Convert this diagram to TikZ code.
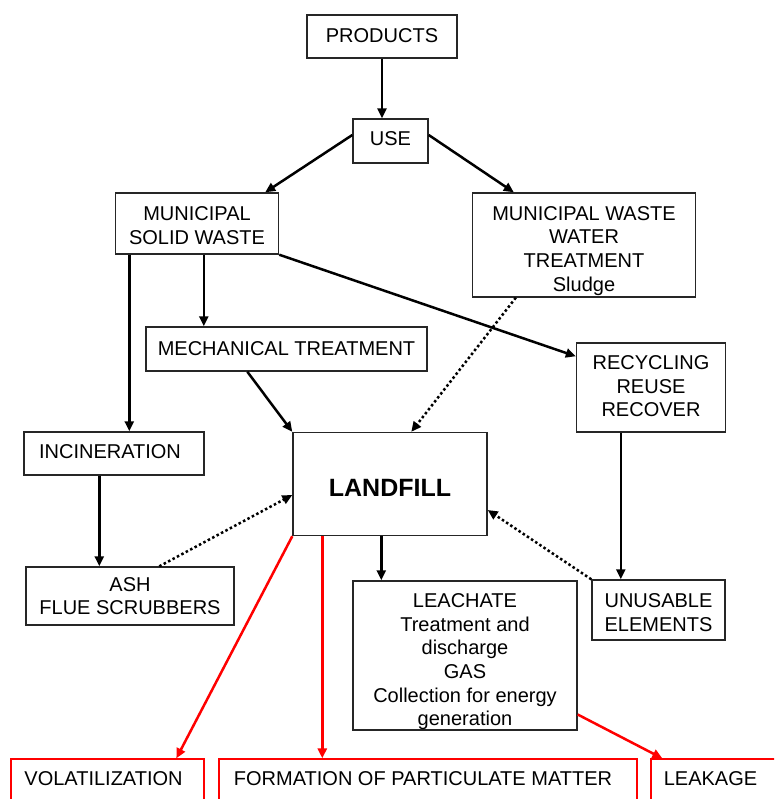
\documentclass[tikz,border=0pt]{standalone}
\usepackage{fontspec}
\setmainfont{Liberation Sans}
\usetikzlibrary{arrows.meta}
\newcommand\lowered[2]{\raisebox{-#1}[\height][\depth]{\begin{tabular}{@{}c@{}}#2\end{tabular}}}
\tikzset{
  box/.style={draw=black!85,line width=1.4pt,inner sep=0pt,align=center,
    font=\fontsize{20}{23.7}\selectfont},
  redbox/.style={box,draw=red,line width=1.3pt},
  flow/.style={line width=2.5pt,-{Triangle[length=10pt,width=9pt]}},
  dotflow/.style={flow,dash pattern=on 2.5pt off 2.5pt},
  redflow/.style={flow,red}
}
\begin{document}
\begin{tikzpicture}[x=1pt,y=-1pt]
\clip (0,0) rectangle (774,799);
% boxes
\node[box,minimum width=150pt,minimum height=43pt] (products) at (382,36.5) {\lowered{1pt}{PRODUCTS}};
\node[box,minimum width=75pt,minimum height=44pt] (use) at (390.5,141) {\lowered{0pt}{USE}};
\node[box,minimum width=163pt,minimum height=61pt] (msw) at (197,223.5) {\lowered{4pt}{MUNICIPAL\\SOLID WASTE}};
\node[box,minimum width=223pt,minimum height=104pt] (mwwt) at (584,245) {\lowered{6pt}{MUNICIPAL WASTE\\WATER\\TREATMENT\\Sludge}};
\node[box,minimum width=281pt,minimum height=44pt] (mech) at (286.5,349) {\lowered{2pt}{MECHANICAL TREATMENT}};
\node[box,minimum width=149pt,minimum height=89pt] (recycle) at (651,387.5) {\lowered{1pt}{RECYCLING\\REUSE\\RECOVER}};
\node[box,minimum width=180pt,minimum height=43pt] (incin) at (114,453.5) {\hspace*{-8pt}\lowered{0pt}{INCINERATION}};
\node[box,minimum width=194pt,minimum height=103pt,font=\fontsize{25}{30}\selectfont\bfseries] (landfill) at (390,484) {\lowered{6pt}{LANDFILL}};
\node[box,minimum width=208pt,minimum height=58pt] (ash) at (130,596) {ASH\\FLUE SCRUBBERS};
\node[box,minimum width=224pt,minimum height=149pt] (leach) at (465,655.5) {\lowered{6.5pt}{LEACHATE\\Treatment and\\discharge\\GAS\\Collection for energy\\generation}};
\node[box,minimum width=133pt,minimum height=60pt] (unusable) at (658.5,610) {\lowered{4.5pt}{UNUSABLE\\ELEMENTS}};
\node[redbox,minimum width=193pt,minimum height=42pt] (vol) at (107.5,780) {\hspace*{-8pt}\lowered{1pt}{VOLATILIZATION}};
\node[redbox,minimum width=418pt,minimum height=42pt] (form) at (428,780) {\hspace*{-10pt}\lowered{1pt}{FORMATION OF PARTICULATE MATTER}};
\node[redbox,minimum width=140pt,minimum height=42pt] (leak) at (721,780) {\hspace*{-21pt}\lowered{1pt}{LEAKAGE}};
% connectors
\draw[flow] (products.south) -- (products.south |- use.north);
\draw[flow] ([yshift=6pt]use.west) -- ([xshift=-14pt]msw.north east);
\draw[flow] ([yshift=6pt]use.east) -- ([xshift=42pt]mwwt.north west);
\draw[flow] ([xshift=14.5pt]msw.south west) -- ([xshift=14.5pt]msw.south west |- incin.north);
\draw[flow] ([xshift=89pt]msw.south west) -- ([xshift=89pt]msw.south west |- mech.north);
\draw[flow] (msw.south east) -- ([yshift=-14pt]recycle.north west);
\draw[flow] ([xshift=102pt]mech.south west) -- (landfill.north west);
\draw[dotflow] ([xshift=44pt]mwwt.south west) -- ([xshift=119pt]landfill.north west);
\draw[flow] ([xshift=45pt]recycle.south west) -- ([xshift=45pt]recycle.south west |- unusable.north);
\draw[flow] ([xshift=76pt]incin.south west) -- ([xshift=76pt]incin.south west |- ash.north);
\draw[dotflow] ([xshift=134pt]ash.north west) -- ([yshift=-11pt]landfill.west);
\draw[dotflow] (unusable.north west) -- ([yshift=-26pt]landfill.east);
\draw[flow] ([xshift=89pt]landfill.south west) -- ([xshift=89pt]landfill.south west |- leach.north);
\draw[redflow] (landfill.south west) -- ([xshift=166pt]vol.north west);
\draw[redflow] ([xshift=30pt]landfill.south west) -- ([xshift=30pt]landfill.south west |- form.north);
\draw[redflow] ([yshift=-59pt]leach.east) -- ([xshift=12pt]leak.north west);
\end{tikzpicture}
\end{document}
